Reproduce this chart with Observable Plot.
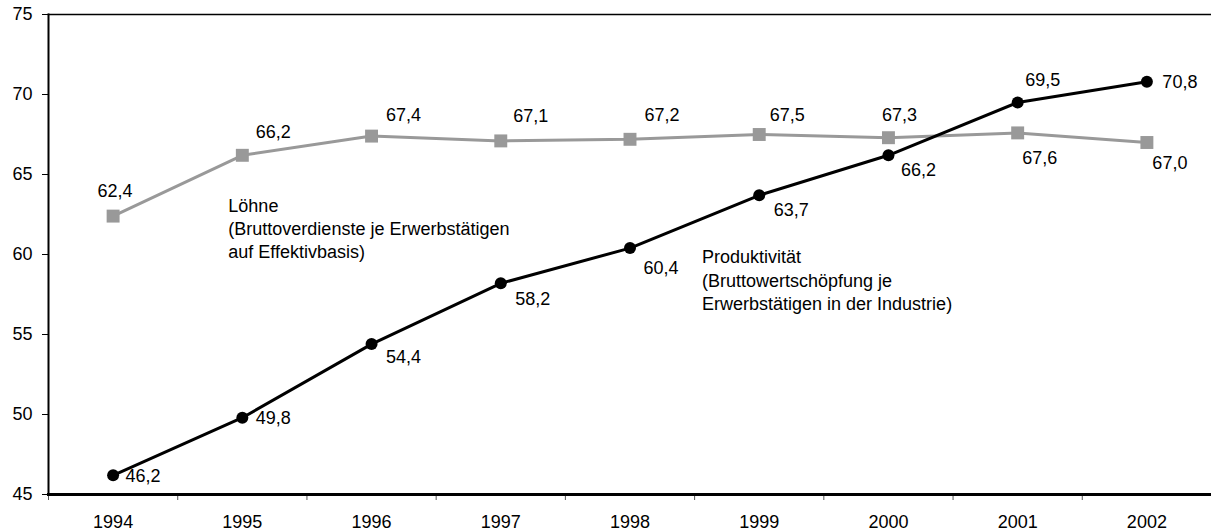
<!DOCTYPE html>
<html><head><meta charset="utf-8">
<script src="https://cdn.jsdelivr.net/npm/d3@7"></script>
<script src="https://cdn.jsdelivr.net/npm/@observablehq/plot@0.6"></script>
<style>body{margin:0;background:#fff} svg{display:block}</style>
</head><body><div id="chart"></div>
<script>
// ---- data ----
const years = [1994, 1995, 1996, 1997, 1998, 1999, 2000, 2001, 2002];
const loehne = [62.4, 66.2, 67.4, 67.1, 67.2, 67.5, 67.3, 67.6, 67.0];
const produktivitaet = [46.2, 49.8, 54.4, 58.2, 60.4, 63.7, 66.2, 69.5, 70.8];
const yTicks = [45, 50, 55, 60, 65, 70, 75];
const loehneName = "Löhne\n(Bruttoverdienste je Erwerbstätigen\nauf Effektivbasis)";
const prodName = "Produktivität\n(Bruttowertschöpfung je\nErwerbstätigen in der Industrie)";

// ---- layout / style ----
const loehneLabelOffsets = [[2,-25],[31,-23],[32,-21],[30,-25],[32,-24],[28,-19],[11,-22],[22,25],[23,21]];
const prodLabelOffsets = [[30,1],[31,1],[32,13],[32,16],[31,20],[32,15],[30,15],[25,-22],[33,1]];
const grey = "#999999";
const fmt = v => v.toFixed(1).replace(".", ",");

const lData = years.map((y, i) => ({year: y, value: loehne[i]}));
const pData = years.map((y, i) => ({year: y, value: produktivitaet[i]}));
const xDomain = [years[0] - 0.5, years[years.length - 1] + 0.5];
const bounds = years.map(y => y - 0.5).concat([years[years.length - 1] + 0.5]);

const labelMarks = [];
lData.forEach((d, i) => labelMarks.push(Plot.text([d], {x: "year", y: "value", text: d => fmt(d.value), dx: loehneLabelOffsets[i][0], dy: loehneLabelOffsets[i][1], fontSize: 18, fill: "#000"})));
pData.forEach((d, i) => labelMarks.push(Plot.text([d], {x: "year", y: "value", text: d => fmt(d.value), dx: prodLabelOffsets[i][0], dy: prodLabelOffsets[i][1], fontSize: 18, fill: "#000"})));

const chart = Plot.plot({
  width: 1211,
  height: 532,
  marginTop: 14,
  marginBottom: 38,
  marginLeft: 48,
  marginRight: 0,
  style: {fontFamily: "'Liberation Sans', Arial, sans-serif", fontSize: "18px", color: "#000", background: "#fff"},
  x: {domain: xDomain, axis: null},
  y: {domain: [yTicks[0], yTicks[yTicks.length - 1]], axis: null},
  marks: [
    Plot.axisY({ticks: yTicks, tickSize: 6, tickPadding: 10, fontSize: 18, label: null, stroke: "#000"}),
    Plot.axisX({ticks: years, tickSize: 0, tickPadding: 21, fontSize: 18, label: null, tickFormat: d => String(d)}),
    Plot.axisX({ticks: bounds, tickSize: 6, tickFormat: () => "", label: null, stroke: "#555"}),
    Plot.frame({anchor: "top", stroke: "#000", strokeWidth: 1.5}),
    Plot.frame({anchor: "left", stroke: "#000", strokeWidth: 2}),
    Plot.frame({anchor: "bottom", stroke: "#000", strokeWidth: 3}),
    Plot.line(lData, {x: "year", y: "value", stroke: grey, strokeWidth: 3}),
    Plot.dot(lData, {x: "year", y: "value", symbol: "square", r: 7.3, fill: grey, stroke: "none"}),
    Plot.line(pData, {x: "year", y: "value", stroke: "#000", strokeWidth: 3}),
    Plot.dot(pData, {x: "year", y: "value", r: 6, fill: "#000", stroke: "none"}),
    ...labelMarks,
    Plot.text([lData[1]], {x: "year", y: "value", text: () => loehneName, textAnchor: "start", lineAnchor: "middle", lineHeight: 1.28, dx: -14, dy: 72, fontSize: 18, fill: "#000"}),
    Plot.text([pData[4]], {x: "year", y: "value", text: () => prodName, textAnchor: "start", lineAnchor: "middle", lineHeight: 1.3, dx: 72, dy: 31, fontSize: 18, fill: "#000"})
  ]
});
document.getElementById("chart").appendChild(chart);
</script>
</body></html>
